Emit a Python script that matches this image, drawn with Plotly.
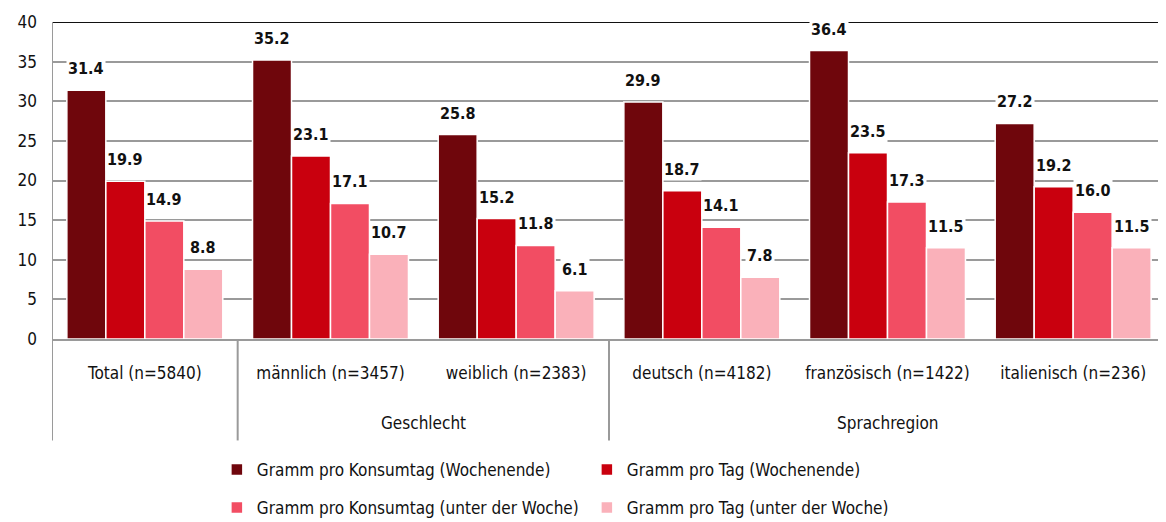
import plotly.graph_objects as go

categories = ["Total (n=5840)", "männlich (n=3457)", "weiblich (n=2383)",
              "deutsch (n=4182)", "französisch (n=1422)", "italienisch (n=236)"]
group_labels = ["Geschlecht", "Sprachregion"]
group_centers = [1.5, 4.0]
series_names = ["Gramm pro Konsumtag (Wochenende)", "Gramm pro Tag (Wochenende)",
                "Gramm pro Konsumtag (unter der Woche)", "Gramm pro Tag (unter der Woche)"]
konsum_we = [31.4, 35.2, 25.8, 29.9, 36.4, 27.2]
tag_we = [19.9, 23.1, 15.2, 18.7, 23.5, 19.2]
konsum_uw = [14.9, 17.1, 11.8, 14.1, 17.3, 16.0]
tag_uw = [8.8, 10.7, 6.1, 7.8, 11.5, 11.5]
series_values = [konsum_we, tag_we, konsum_uw, tag_uw]
colors = ["#6F060C", "#C9000E", "#F24D63", "#FAB1BA"]

FONT = "DejaVu Sans Condensed, Liberation Sans Narrow, sans-serif"
BARGAP = 0.16
GRID = "#9a9a9a"
TXT = "#111111"

fig = go.Figure()
for j, (name, vals, col) in enumerate(zip(series_names, series_values, colors)):
    fig.add_trace(go.Bar(
        x=categories, y=vals, name=name,
        marker=dict(color=col, line=dict(color="white", width=1.5)),
        legend="legend" if j < 2 else "legend2",
    ))

# value labels (white background, above bars)
n = len(series_values)
w = (1 - BARGAP) / n
for j, vals in enumerate(series_values):
    off = -(1 - BARGAP) / 2 + (j + 0.5) * w
    for i, v in enumerate(vals):
        fig.add_annotation(x=i + off, y=v, xref="x", yref="y", text=f"<b>{v:.1f}</b>",
                           showarrow=False, yanchor="bottom", yshift=10,
                           bgcolor="white", borderpad=1,
                           font=dict(family=FONT, size=16, color=TXT))

for lab, cx in zip(group_labels, group_centers):
    fig.add_annotation(x=cx, y=-0.265, xref="x", yref="paper", text=lab,
                       showarrow=False, yanchor="middle",
                       font=dict(family=FONT, size=17, color=TXT))

shapes = []
# top border line
shapes.append(dict(type="line", xref="paper", yref="y", x0=0, x1=1, y0=40, y1=40,
                   line=dict(color=TXT, width=2), layer="below"))
# left axis line extended into label area
shapes.append(dict(type="line", xref="x", yref="paper", x0=-0.5, x1=-0.5, y0=-0.32, y1=1,
                   line=dict(color=GRID, width=2), layer="above"))
for xb in [0.5, 2.5]:
    shapes.append(dict(type="line", xref="x", yref="paper", x0=xb, x1=xb, y0=-0.32, y1=0,
                       line=dict(color=GRID, width=2), layer="above"))

fig.update_layout(
    width=1158, height=514,
    margin=dict(l=44, r=0, t=14, b=183, autoexpand=False),
    paper_bgcolor="white", plot_bgcolor="white",
    barmode="group", bargap=BARGAP, bargroupgap=0,
    font=dict(family=FONT, size=17, color=TXT),
    shapes=shapes,
    showlegend=True,
    legend=dict(orientation="h", x=0.148, xanchor="left", y=-0.413, yanchor="middle",
                entrywidth=325, font=dict(family=FONT, size=17, color=TXT),
                itemwidth=30, bgcolor="rgba(0,0,0,0)"),
    legend2=dict(orientation="h", x=0.148, xanchor="left", y=-0.533, yanchor="middle",
                 entrywidth=325, font=dict(family=FONT, size=17, color=TXT),
                 itemwidth=30, bgcolor="rgba(0,0,0,0)"),
)
fig.update_xaxes(type="category", range=[-0.5, len(categories) - 0.5], automargin=False,
                 showline=True, linecolor=GRID, linewidth=2, ticks="",
                 ticklabelstandoff=18, tickfont=dict(family=FONT, size=17, color=TXT),
                 showgrid=False, zeroline=False)
fig.update_yaxes(range=[0, 40], dtick=5, showgrid=True, gridcolor=GRID, gridwidth=1.5,
                 automargin=False, showline=False, zeroline=False, ticks="",
                 ticklabelstandoff=14, tickfont=dict(family=FONT, size=17, color=TXT))

fig.write_html("out.html")
